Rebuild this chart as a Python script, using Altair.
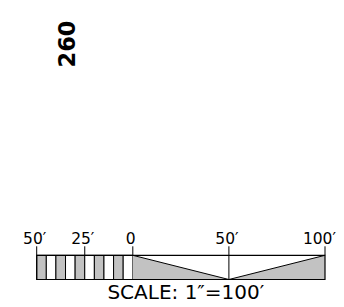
import altair as alt
import pandas as pd

# --- data ---
tick_values = [-50, -25, 0, 50, 100]
tick_labels = ["50′", "25′", "0", "50′", "100′"]
cell_start = [-50, -45, -40, -35, -30, -25, -20, -15, -10, -5]
cell_end = [-45, -40, -35, -30, -25, -20, -15, -10, -5, 0]
cell_shade = ["g", "w", "g", "w", "g", "w", "g", "w", "g", "w"]
tri_x = [0, 50, 100]
tri_level = [1, 0, 1]
bar_extent = [-50, 100]
sheet_label = "260"
caption = "SCALE: 1″=100′"

GRAY = "#c2c2c2"
X0, X1 = 28.7, 317.0
YT, YB = 247.3, 271.5

xs = alt.Scale(domain=bar_extent, range=[X0, X1])
ys = alt.Scale(domain=[0, 1], range=[YB, YT])

cells = pd.DataFrame({"a": cell_start, "b": cell_end, "s": cell_shade})
tri = pd.DataFrame({"x": tri_x, "lv": tri_level})
ticks = pd.DataFrame({"x": tick_values, "t": tick_labels})
outline = pd.DataFrame({"a": [bar_extent[0]], "b": [bar_extent[1]]})
mid = pd.DataFrame({"x": [50]})
cap = pd.DataFrame({"x": [sum(bar_extent) / 2], "t": [caption]})
lab = pd.DataFrame({"t": [sheet_label]})

cell_layer = alt.Chart(cells).mark_rect(stroke="black", strokeWidth=1).encode(
    x=alt.X("a:Q", scale=xs, axis=None), x2="b:Q",
    y=alt.value(YT), y2=alt.value(YB),
    fill=alt.Fill("s:N", scale=alt.Scale(domain=["g", "w"], range=[GRAY, "white"]), legend=None),
)

area_layer = alt.Chart(tri).mark_area(color=GRAY, opacity=1).encode(
    x=alt.X("x:Q", scale=xs, axis=None),
    y=alt.Y("lv:Q", scale=ys, axis=None),
    y2=alt.value(YB),
)
line_layer = alt.Chart(tri).mark_line(color="black", strokeWidth=1).encode(
    x=alt.X("x:Q", scale=xs, axis=None),
    y=alt.Y("lv:Q", scale=ys, axis=None),
)

outline_layer = alt.Chart(outline).mark_rect(fill=None, stroke="black", strokeWidth=1.2).encode(
    x=alt.X("a:Q", scale=xs, axis=None), x2="b:Q",
    y=alt.value(YT), y2=alt.value(YB),
)

mid_layer = alt.Chart(mid).mark_rule(color="black", strokeWidth=1).encode(
    x=alt.X("x:Q", scale=xs, axis=None), y=alt.value(YT), y2=alt.value(YB),
)

tick_layer = alt.Chart(ticks).mark_rule(color="black", strokeWidth=1).encode(
    x=alt.X("x:Q", scale=xs, axis=None), y=alt.value(238.3), y2=alt.value(YT),
)

label_layer = alt.Chart(ticks).transform_filter("datum.x < 100").mark_text(
    font="DejaVu Sans", fontSize=15.5, baseline="alphabetic", align="center",
    color="black", dx=-2
).encode(
    x=alt.X("x:Q", scale=xs, axis=None), y=alt.value(235.6), text="t:N",
)

last_label_layer = alt.Chart(ticks).transform_filter("datum.x >= 100").mark_text(
    font="DejaVu Sans", fontSize=15.5, baseline="alphabetic", align="right",
    color="black", dx=11
).encode(
    x=alt.X("x:Q", scale=xs, axis=None), y=alt.value(235.6), text="t:N",
)

cap_layer = alt.Chart(cap).mark_text(
    font="DejaVu Sans", fontSize=20, baseline="alphabetic", align="center",
    color="black", dx=5
).encode(
    x=alt.X("x:Q", scale=xs, axis=None), y=alt.value(290.5), text="t:N",
)

sheet_layer = alt.Chart(lab).mark_text(
    font="DejaVu Sans", fontWeight="bold", fontSize=22.5, angle=270,
    align="center", baseline="middle", color="black"
).encode(
    x=alt.value(59.5), y=alt.value(36), text="t:N",
)

chart = alt.layer(
    cell_layer, area_layer, line_layer, mid_layer, outline_layer,
    tick_layer, label_layer, last_label_layer, cap_layer, sheet_layer
).properties(
    width=328, height=291, autosize=alt.AutoSizeParams(type="none"), padding=0
).configure_view(stroke=None)

chart.save("out.html", embed_options={"renderer": "svg", "actions": False})
